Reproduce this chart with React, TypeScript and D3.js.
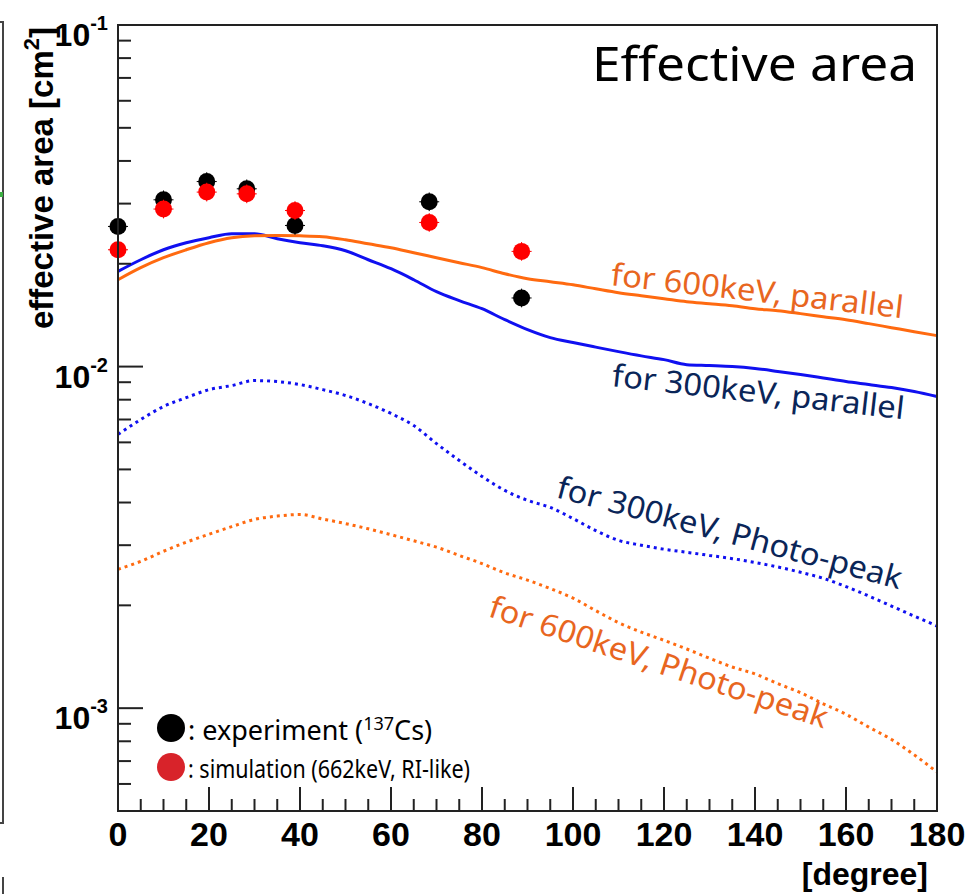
import React from "react";
import * as d3 from "d3";

// ---------- data ----------
const curveAngles = [0,5,10,15,20,25,30,35,40,45,50,55,60,65,70,75,80,85,90,95,100,105,110,115,120,125,130,135,140,145,150,155,160,165,170,175,180];

const parallel600 = [0.01796,0.01948,0.02083,0.02198,0.02305,0.02384,0.02415,0.0242,0.02415,0.0240,0.02351,0.02288,0.02228,0.02154,0.02083,0.02014,0.01948,0.0187,0.01808,0.01771,0.01735,0.01689,0.01645,0.01612,0.0158,0.01548,0.01528,0.01507,0.01477,0.01457,0.01429,0.0140,0.01372,0.01336,0.0130,0.01265,0.01232];

const parallel300 = [0.0190,0.02055,0.02198,0.02305,0.02384,0.02448,0.02448,0.02367,0.02305,0.02258,0.02183,0.02055,0.01934,0.01796,0.01657,0.0156,0.01477,0.01372,0.01283,0.01216,0.01176,0.0114,0.01106,0.01075,0.01048,0.01013,0.01007,0.0100,0.00987,0.00968,0.00948,0.00926,0.00904,0.00886,0.00868,0.00845,0.00817];

const photo300 = [0.00633,0.0070,0.00764,0.00811,0.00856,0.0088,0.0091,0.00904,0.00886,0.00856,0.00823,0.00779,0.00729,0.00672,0.00595,0.00531,0.00477,0.00434,0.00406,0.00387,0.00359,0.00331,0.0031,0.0030,0.00292,0.00286,0.0028,0.00274,0.00267,0.00259,0.0025,0.0024,0.00227,0.00213,0.00199,0.00186,0.00174];

const photo600 = [0.00255,0.00269,0.00288,0.00306,0.00323,0.0034,0.00357,0.00365,0.00369,0.00358,0.00347,0.00335,0.00322,0.00309,0.00296,0.0028,0.00265,0.00249,0.00237,0.00224,0.0021,0.00193,0.00178,0.00167,0.00158,0.00149,0.0014,0.00132,0.00126,0.00118,0.00111,0.00103,0.00096,0.00088,0.00081,0.00073,0.00065];

const pointAngles = [0, 10, 19.5, 28.3, 38.9, 68.4, 88.7];
const experiment = [0.02572, 0.03078, 0.03481, 0.03315, 0.02589, 0.03037, 0.01588];
const simulation = [0.02198, 0.02892, 0.03242, 0.03204, 0.02864, 0.02642, 0.02174];

const xTickLabels = [0, 20, 40, 60, 80, 100, 120, 140, 160, 180];
const yDecades = [1e-3, 1e-2, 1e-1];
const yDecadeExp = ["-3", "-2", "-1"];

// ---------- layout ----------
const W = 972, H = 894;
const L = 118, R = 937, T = 25, B = 811;

const x = d3.scaleLinear().domain([0, 180]).range([L, R]);
const y = d3.scaleLog().domain([5e-4, 0.1]).range([B, T]);

const ORANGE = "#ff6a10";
const BLUE = "#1010f0";
const NAVY = "#0a2558";
const ORANGE_TXT = "#e8661f";
const AXIS = "#222";
const HAND = "'Noto Sans', 'DejaVu Sans', sans-serif";
const BOLD = "'Liberation Sans', Arial, Helvetica, sans-serif";

function linePath(vals: number[]) {
  const data = curveAngles.map((a, i) => [a, vals[i]] as [number, number]);
  return d3.line<[number, number]>()
    .x(d => x(d[0]))
    .y(d => y(d[1]))
    .curve(d3.curveMonotoneX)(data) || "";
}

export default function App() {
  const xMinor = d3.range(0, 181, 5).filter(v => v % 20 !== 0);
  const yMinor: number[] = [];
  [1e-4, 1e-3, 1e-2].forEach(dec => {
    for (let k = 2; k <= 9; k++) {
      const v = dec * k;
      if (v >= 5e-4 && v <= 0.1) yMinor.push(v);
    }
  });

  const annotations = [
    { text: "for 600keV, parallel", x0: 610, y0: 285, ang: 6.5, len: 294, color: ORANGE_TXT },
    { text: "for 300keV, parallel", x0: 611, y0: 386, ang: 6.5, len: 294, color: NAVY },
    { text: "for 300keV, Photo-peak", x0: 555, y0: 497, ang: 15, len: 356, color: NAVY },
    { text: "for 600keV, Photo-peak", x0: 487, y0: 616, ang: 18.5, len: 355, color: ORANGE_TXT },
  ];

  return (
    <div style={{ position: "fixed", left: 0, top: 0, width: W, height: H, background: "#fff" }}>
      <svg width={W} height={H} style={{ display: "block" }}>
        <rect x={0} y={0} width={W} height={H} fill="#fff" />

        {/* fragment of neighbouring panel at left edge */}
        <path d="M0,22 H3 V823 H0" fill="none" stroke="#444" strokeWidth={2} />
        <rect x={0} y={192} width={3} height={5} fill="#3cb043" />
        <line x1={3} x2={3} y1={877} y2={894} stroke="#444" strokeWidth={2} />

        {/* curves */}
        <path d={linePath(photo300)} fill="none" stroke={BLUE} strokeWidth={3} strokeDasharray="3,4" />
        <path d={linePath(photo600)} fill="none" stroke={ORANGE} strokeWidth={3} strokeDasharray="3,4" />
        <path d={linePath(parallel300)} fill="none" stroke={BLUE} strokeWidth={3} />
        <path d={linePath(parallel600)} fill="none" stroke={ORANGE} strokeWidth={3} />

        {/* data points */}
        {pointAngles.map((a, i) => (
          <g key={"e" + i}>
            <line x1={x(a)} x2={x(a)} y1={y(experiment[i] * 1.065)} y2={y(experiment[i] / 1.065)} stroke="#000" strokeWidth={1} />
            <line x1={x(a - 2.2)} x2={x(a + 2.2)} y1={y(experiment[i])} y2={y(experiment[i])} stroke="#000" strokeWidth={1} />
            <circle cx={x(a)} cy={y(experiment[i])} r={8.5} fill="#000" />
          </g>
        ))}
        {pointAngles.map((a, i) => (
          <g key={"s" + i}>
            <line x1={x(a)} x2={x(a)} y1={y(simulation[i] * 1.065)} y2={y(simulation[i] / 1.065)} stroke="#f00" strokeWidth={1} />
            <line x1={x(a - 2.2)} x2={x(a + 2.2)} y1={y(simulation[i])} y2={y(simulation[i])} stroke="#f00" strokeWidth={1} />
            <circle cx={x(a)} cy={y(simulation[i])} r={8.5} fill="#f00" />
          </g>
        ))}

        {/* frame */}
        <rect x={L} y={T} width={R - L} height={B - T} fill="none" stroke={AXIS} strokeWidth={2} />

        {/* x ticks */}
        {xTickLabels.map(v => (
          <g key={"xt" + v}>
            <line x1={x(v)} x2={x(v)} y1={B} y2={B - 24} stroke={AXIS} strokeWidth={2} />
            <text x={x(v)} y={846} textAnchor="middle" fontFamily={BOLD} fontWeight="bold" fontSize={34} fill="#000">{v}</text>
          </g>
        ))}
        {xMinor.map(v => (
          <line key={"xm" + v} x1={x(v)} x2={x(v)} y1={B} y2={B - 12} stroke={AXIS} strokeWidth={2} />
        ))}
        <text x={928} y={885} textAnchor="end" fontFamily={BOLD} fontWeight="bold" fontSize={32} fill="#000">[degree]</text>

        {/* y ticks */}
        {yDecades.map((v, i) => (
          <g key={"yt" + v}>
            <line x1={L} x2={L + 25} y1={y(v)} y2={y(v)} stroke={AXIS} strokeWidth={2} />
            <text x={108} y={y(v) + 21} textAnchor="end" fontFamily={BOLD} fontWeight="bold" fontSize={32} fill="#000">
              10<tspan fontSize={20} dy={-16}>{yDecadeExp[i]}</tspan>
            </text>
          </g>
        ))}
        {yMinor.map(v => (
          <line key={"ym" + v} x1={L} x2={L + 13} y1={y(v)} y2={y(v)} stroke={AXIS} strokeWidth={2} />
        ))}
        <text transform="translate(53,27) rotate(-90)" textAnchor="end" fontFamily={BOLD} fontWeight="bold" fontSize={33} fill="#000">
          effective area [cm<tspan fontSize={22} dy={-14}>2</tspan><tspan dy={14}>]</tspan>
        </text>

        {/* title */}
        <text x={592} y={81} fontFamily={HAND} fontSize={48} fill="#000" textLength={325} lengthAdjust="spacingAndGlyphs">Effective area</text>

        {/* curve annotations */}
        {annotations.map((a, i) => (
          <text key={"an" + i} transform={`translate(${a.x0},${a.y0}) rotate(${a.ang})`} fontFamily={HAND} fontSize={31}
            fill={a.color} textLength={a.len} lengthAdjust="spacingAndGlyphs">{a.text}</text>
        ))}

        {/* legend */}
        <circle cx={171} cy={728} r={14} fill="#000" />
        <circle cx={171} cy={767} r={14} fill="#d8232a" />
        <text x={188} y={740} fontFamily={HAND} fontSize={27} fill="#000">
          : experiment (<tspan fontSize={18} dy={-10}>137</tspan><tspan dy={10}>Cs)</tspan>
        </text>
        <text x={188} y={778} fontFamily={HAND} fontSize={26} fill="#000" textLength={282} lengthAdjust="spacingAndGlyphs">
          : simulation (662keV, RI-like)
        </text>
      </svg>
    </div>
  );
}
